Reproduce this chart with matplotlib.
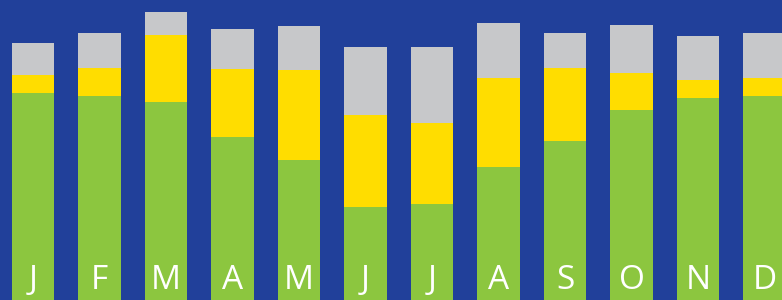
import matplotlib.pyplot as plt
import numpy as np

months = ["J", "F", "M", "A", "M", "J", "J", "A", "S", "O", "N", "D"]
green = [207, 204, 198, 163, 140, 93, 96, 133, 159, 190, 202, 204]
yellow = [18, 28, 67, 68, 90, 92, 81, 89, 73, 37, 18, 18]
gray = [32, 35, 23, 40, 44, 68, 76, 55, 35, 48, 44, 45]

bg = "#21409a"
x = np.arange(len(months))
green = np.array(green)
yellow = np.array(yellow)
gray = np.array(gray)

fig = plt.figure(figsize=(7.82, 3.0), dpi=100, facecolor=bg)
ax = fig.add_axes([0, 0, 1, 1])
ax.set_facecolor(bg)

w = 0.632
ax.bar(x, green, width=w, color="#8cc63f", linewidth=0)
ax.bar(x, yellow, width=w, bottom=green, color="#ffdd00", linewidth=0)
ax.bar(x, gray, width=w, bottom=green + yellow, color="#c7c8ca", linewidth=0)

for xi, m in zip(x, months):
    ax.text(xi, 11, m, color="white", ha="center", va="baseline",
            fontsize=24, family="Open Sans")

ax.set_xlim(-0.496, 11.263)
ax.set_ylim(0, 300)
ax.axis("off")

fig.savefig("out.png", dpi=100, facecolor=bg)
